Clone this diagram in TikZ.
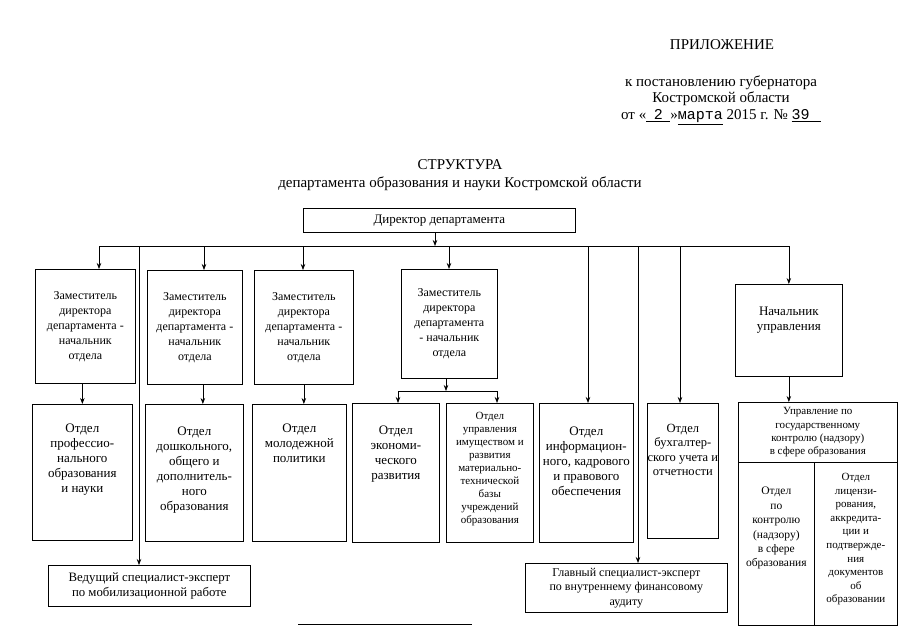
\documentclass[tikz,border=0pt]{standalone}
\usepackage{fontspec}
\setmainfont{Liberation Serif}
\newfontfamily\typed{Liberation Mono}
\usetikzlibrary{positioning,arrows.meta}
\newcommand{\headfont}{\fontsize{15}{16.5}\selectfont}
\newcommand{\boxfont}{\fontsize{12}{15}\selectfont}
\newcommand{\deptfont}{\fontsize{13}{15}\selectfont}
\newcommand{\smallfont}{\fontsize{11}{13}\selectfont}
\tikzstyle{unit} = [draw, rectangle, anchor=north west, inner sep=0pt, align=center, font=\boxfont, line width=0.7pt]
\tikzstyle{caption} = [anchor=north, align=center, inner sep=0pt, font=\deptfont]
\tikzstyle{link} = [line width=0.7pt, -{Stealth[length=6pt,width=4.5pt]}]

\begin{document}
\begin{tikzpicture}[x=1pt, y=-1pt]
  \useasboundingbox (0,0) rectangle (905,640);

  % header
  \node[font=\headfont] (app) at (722,45) {ПРИЛОЖЕНИЕ};
  \node[font=\headfont, align=center] (decree) at (721,100) {к постановлению губернатора\\Костромской области\\от «\underline{\ \ {\typed 2}\ \ }»\underline{\typed марта} 2015 г. № \underline{{\typed 39}\ \ \ }};
  \node[font=\headfont] (title) at (460,165) {СТРУКТУРА};
  \node[font=\headfont] (subtitle) at (460,184) {департамента образования и науки Костромской области};

  % director and deputies
  \node[unit, font=\deptfont, minimum width=272pt, minimum height=24pt] (dir) at (303,208) {Директор департамента};
  \node[unit, minimum width=100pt, minimum height=114pt] (dep1) at (35,269) {Заместитель\\директора\\департамента -\\начальник\\отдела};
  \node[unit, minimum width=95pt, minimum height=114pt] (dep2) at (147,270) {Заместитель\\директора\\департамента -\\начальник\\отдела};
  \node[unit, minimum width=99pt, minimum height=114pt] (dep3) at (254,270) {Заместитель\\директора\\департамента -\\начальник\\отдела};
  \node[unit, minimum width=96pt, minimum height=109pt] (dep4) at (401,269) {Заместитель\\директора\\департамента\\- начальник\\отдела};
  \node[unit, minimum width=107pt, minimum height=92pt] (nach) at (735,284) {};
  \node[caption, below=23pt of nach.north] (nachT) {Начальник\\управления};

  % departments
  \node[unit, minimum width=100pt, minimum height=136pt] (prof) at (32,404) {};
  \node[caption, below=20pt of prof.north] (profT) {Отдел\\профессио-\\нального\\образования\\и науки};
  \node[unit, minimum width=98pt, minimum height=137pt] (doshk) at (145,404) {};
  \node[caption, below=23pt of doshk.north] (doshkT) {Отдел\\дошкольного,\\общего и\\дополнитель-\\ного\\образования};
  \node[unit, minimum width=94pt, minimum height=137pt] (molod) at (252,404) {};
  \node[caption, below=20pt of molod.north] (molodT) {Отдел\\молодежной\\политики};
  \node[unit, minimum width=87pt, minimum height=139pt] (econ) at (352,403) {};
  \node[caption, below=23pt of econ.north] (econT) {Отдел\\экономи-\\ческого\\развития};
  \node[unit, minimum width=87pt, minimum height=139pt] (upr) at (446,403) {};
  \node[caption, font=\smallfont, below=9pt of upr.north] (uprT) {Отдел\\управления\\имуществом и\\развития\\материально-\\технической\\базы\\учреждений\\образования};
  \node[unit, minimum width=94pt, minimum height=139pt] (info) at (539,403) {};
  \node[caption, below=24pt of info.north] (infoT) {Отдел\\информацион-\\ного, кадрового\\и правового\\обеспечения};
  \node[unit, minimum width=71pt, minimum height=135pt] (buh) at (647,403) {};
  \node[caption, font=\fontsize{12.5}{14.5}\selectfont, below=21pt of buh.north] (buhT) {Отдел\\бухгалтер-\\ского учета и\\отчетности};

  % control board
  \node[unit, font=\fontsize{11}{13.3}\selectfont, minimum width=159pt, minimum height=60pt] (gos) at (738,402) {Управление по\\государственному\\контролю (надзору)\\в сфере образования};
  \node[unit, minimum width=76pt, minimum height=163pt] (gosA) at (738,462) {};
  \node[caption, font=\fontsize{11.5}{14.4}\selectfont, below=25pt of gosA.north] (gosAT) {Отдел\\по\\контролю\\(надзору)\\в сфере\\образования};
  \node[unit, minimum width=83pt, minimum height=163pt] (gosB) at (814,462) {};
  \node[caption, font=\fontsize{11}{13.6}\selectfont, below=11pt of gosB.north] (gosBT) {Отдел\\лицензи-\\рования,\\аккредита-\\ции и\\подтвержде-\\ния\\документов\\об\\образовании};

  % experts
  \node[unit, font=\fontsize{12.8}{15}\selectfont, minimum width=202pt, minimum height=41pt] (ved) at (48,565) {Ведущий специалист-эксперт\\по мобилизационной работе};
  \node[unit, font=\fontsize{12}{14.5}\selectfont, minimum width=202pt, minimum height=49pt] (glav) at (525,563) {Главный специалист-эксперт\\по внутреннему финансовому\\аудиту};

  % bus
  \coordinate (top) at (435,246);
  \coordinate (tap1) at (99,246);
  \coordinate (tap2) at (139,246);
  \coordinate (tap3) at (204,246);
  \coordinate (tap4) at (303,246);
  \coordinate (tap5) at (449,246);
  \coordinate (tap6) at (588,246);
  \coordinate (tap7) at (638,246);
  \coordinate (tap8) at (680,246);
  \coordinate (split) at (446,391);
  \coordinate (splitL) at (398,391);
  \coordinate (splitR) at (497,391);

  \draw[link] (dir.south -| top) -- (top);
  \draw[line width=0.7pt] (tap1) -- (nach.north |- top);
  \draw[link] (tap1) -- (tap1 |- dep1.north);
  \draw[link] (tap2) -- (tap2 |- ved.north);
  \draw[link] (tap3) -- (tap3 |- dep2.north);
  \draw[link] (tap4) -- (tap4 |- dep3.north);
  \draw[link] (tap5) -- (tap5 |- dep4.north);
  \draw[link] (tap6) -- (tap6 |- info.north);
  \draw[link] (tap7) -- (tap7 |- glav.north);
  \draw[link] (tap8) -- (tap8 |- buh.north);
  \draw[link] (nach.north |- top) -- (nach.north);

  \draw[link] (dep1.south -| prof.north) -- (prof.north);
  \draw[link] ([xshift=8pt]dep2.south) -- ([xshift=8pt]dep2.south |- doshk.north);
  \draw[link] (dep3.south) -- (dep3.south |- molod.north);
  \draw[link] (dep4.south -| split) -- (split);
  \draw[line width=0.7pt] (splitL) -- (splitR);
  \draw[link] (splitL) -- (splitL |- econ.north);
  \draw[link] (splitR) -- (splitR |- upr.north);
  \draw[link] (nach.south) -- (nach.south |- gos.north);

  \draw[line width=0.7pt] (298,624) -- (472,624);
\end{tikzpicture}
\end{document}
